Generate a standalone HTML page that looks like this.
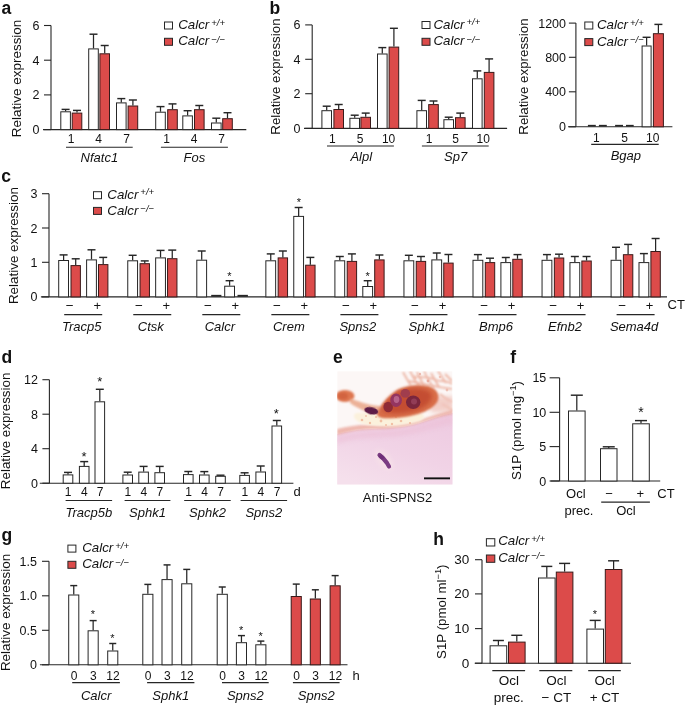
<!DOCTYPE html>
<html><head><meta charset="utf-8"><style>
html,body{margin:0;padding:0;background:#fff;}
svg{display:block;filter:blur(0.3px);}
text{font-family:"Liberation Sans",sans-serif;fill:#111;}
</style></head><body>
<svg width="685" height="705" viewBox="0 0 685 705">
<rect width="685" height="705" fill="#fff"/>
<text x="1.6" y="13.8" font-size="17.5" font-weight="bold" fill="#111">a</text>
<line x1="51" y1="25.5" x2="51" y2="129.6" stroke="#262626" stroke-width="1.1"/>
<line x1="44" y1="25.5" x2="51" y2="25.5" stroke="#262626" stroke-width="1.1"/>
<text x="39.5" y="30" font-size="12.5" text-anchor="end" >6</text>
<line x1="44" y1="60.2" x2="51" y2="60.2" stroke="#262626" stroke-width="1.1"/>
<text x="39.5" y="64.7" font-size="12.5" text-anchor="end" >4</text>
<line x1="44" y1="94.9" x2="51" y2="94.9" stroke="#262626" stroke-width="1.1"/>
<text x="39.5" y="99.4" font-size="12.5" text-anchor="end" >2</text>
<line x1="44" y1="129.6" x2="51" y2="129.6" stroke="#262626" stroke-width="1.1"/>
<text x="39.5" y="134.1" font-size="12.5" text-anchor="end" >0</text>
<line x1="43" y1="129.6" x2="246.3" y2="129.6" stroke="#262626" stroke-width="1.1"/>
<rect x="60.8" y="111.8" width="9.6" height="17.8" fill="#fff" stroke="#262626" stroke-width="1.0"/>
<line x1="65.6" y1="111.3" x2="65.6" y2="109.4" stroke="#262626" stroke-width="1.25"/>
<line x1="61.6" y1="109.4" x2="69.6" y2="109.4" stroke="#262626" stroke-width="1.45"/>
<rect x="72.2" y="113.1" width="9.6" height="16.5" fill="#dc4b4a" stroke="#3a1a1a" stroke-width="1.0"/>
<line x1="77" y1="112.6" x2="77" y2="110.4" stroke="#262626" stroke-width="1.25"/>
<line x1="73" y1="110.4" x2="81" y2="110.4" stroke="#262626" stroke-width="1.45"/>
<rect x="88.7" y="48.9" width="9.6" height="80.7" fill="#fff" stroke="#262626" stroke-width="1.0"/>
<line x1="93.5" y1="48.4" x2="93.5" y2="34.2" stroke="#262626" stroke-width="1.25"/>
<line x1="89.5" y1="34.2" x2="97.5" y2="34.2" stroke="#262626" stroke-width="1.45"/>
<rect x="99.9" y="53.8" width="9.6" height="75.8" fill="#dc4b4a" stroke="#3a1a1a" stroke-width="1.0"/>
<line x1="104.7" y1="53.3" x2="104.7" y2="45.5" stroke="#262626" stroke-width="1.25"/>
<line x1="100.7" y1="45.5" x2="108.7" y2="45.5" stroke="#262626" stroke-width="1.45"/>
<rect x="116.5" y="102.9" width="9.6" height="26.7" fill="#fff" stroke="#262626" stroke-width="1.0"/>
<line x1="121.3" y1="102.4" x2="121.3" y2="98.6" stroke="#262626" stroke-width="1.25"/>
<line x1="117.3" y1="98.6" x2="125.3" y2="98.6" stroke="#262626" stroke-width="1.45"/>
<rect x="128.1" y="106" width="9.6" height="23.6" fill="#dc4b4a" stroke="#3a1a1a" stroke-width="1.0"/>
<line x1="132.9" y1="105.5" x2="132.9" y2="100" stroke="#262626" stroke-width="1.25"/>
<line x1="128.9" y1="100" x2="136.9" y2="100" stroke="#262626" stroke-width="1.45"/>
<rect x="155.7" y="112.2" width="9.6" height="17.4" fill="#fff" stroke="#262626" stroke-width="1.0"/>
<line x1="160.5" y1="111.7" x2="160.5" y2="106.6" stroke="#262626" stroke-width="1.25"/>
<line x1="156.5" y1="106.6" x2="164.5" y2="106.6" stroke="#262626" stroke-width="1.45"/>
<rect x="167.7" y="109.7" width="9.6" height="19.9" fill="#dc4b4a" stroke="#3a1a1a" stroke-width="1.0"/>
<line x1="172.5" y1="109.2" x2="172.5" y2="103.9" stroke="#262626" stroke-width="1.25"/>
<line x1="168.5" y1="103.9" x2="176.5" y2="103.9" stroke="#262626" stroke-width="1.45"/>
<rect x="182.8" y="115.9" width="9.6" height="13.7" fill="#fff" stroke="#262626" stroke-width="1.0"/>
<line x1="187.6" y1="115.4" x2="187.6" y2="110.7" stroke="#262626" stroke-width="1.25"/>
<line x1="183.6" y1="110.7" x2="191.6" y2="110.7" stroke="#262626" stroke-width="1.45"/>
<rect x="194.5" y="109.7" width="9.6" height="19.9" fill="#dc4b4a" stroke="#3a1a1a" stroke-width="1.0"/>
<line x1="199.3" y1="109.2" x2="199.3" y2="105.5" stroke="#262626" stroke-width="1.25"/>
<line x1="195.3" y1="105.5" x2="203.3" y2="105.5" stroke="#262626" stroke-width="1.45"/>
<rect x="211.5" y="123" width="9.6" height="6.6" fill="#fff" stroke="#262626" stroke-width="1.0"/>
<line x1="216.3" y1="122.5" x2="216.3" y2="118.2" stroke="#262626" stroke-width="1.25"/>
<line x1="212.3" y1="118.2" x2="220.3" y2="118.2" stroke="#262626" stroke-width="1.45"/>
<rect x="222.7" y="118.7" width="9.6" height="10.9" fill="#dc4b4a" stroke="#3a1a1a" stroke-width="1.0"/>
<line x1="227.5" y1="118.2" x2="227.5" y2="112.7" stroke="#262626" stroke-width="1.25"/>
<line x1="223.5" y1="112.7" x2="231.5" y2="112.7" stroke="#262626" stroke-width="1.45"/>
<text x="71.2" y="143.2" font-size="12" text-anchor="middle" >1</text>
<text x="98.7" y="143.2" font-size="12" text-anchor="middle" >4</text>
<text x="126.5" y="143.2" font-size="12" text-anchor="middle" >7</text>
<text x="166.6" y="143.2" font-size="12" text-anchor="middle" >1</text>
<text x="194" y="143.2" font-size="12" text-anchor="middle" >4</text>
<text x="221.6" y="143.2" font-size="12" text-anchor="middle" >7</text>
<line x1="66" y1="147.3" x2="132.7" y2="147.3" stroke="#262626" stroke-width="1.1"/>
<line x1="160.9" y1="147.3" x2="227.9" y2="147.3" stroke="#262626" stroke-width="1.1"/>
<text x="99.4" y="161.6" font-size="13" text-anchor="middle" font-style="italic" >Nfatc1</text>
<text x="194.4" y="161.6" font-size="13" text-anchor="middle" font-style="italic" >Fos</text>
<text transform="translate(21.4,78.4) rotate(-90)" font-size="13" text-anchor="middle" textLength="117.5" lengthAdjust="spacingAndGlyphs">Relative expression</text>
<rect x="164.5" y="22" width="8" height="7" fill="#fff" stroke="#262626" stroke-width="1"/>
<rect x="164.5" y="38.3" width="8" height="7" fill="#dc4b4a" stroke="#262626" stroke-width="1"/>
<text x="178.2" y="29.1" font-size="13.3" font-style="italic">Calcr<tspan font-size="9.5" dx="2" dy="-3.6">+/+</tspan></text>
<text x="178.2" y="45.4" font-size="13.3" font-style="italic">Calcr<tspan font-size="9.5" dx="2" dy="-2.9">−/−</tspan></text>
<text x="269.6" y="13.5" font-size="17.5" font-weight="bold" fill="#111">b</text>
<line x1="312.2" y1="24.9" x2="312.2" y2="128.4" stroke="#262626" stroke-width="1.1"/>
<line x1="305.2" y1="24.9" x2="312.2" y2="24.9" stroke="#262626" stroke-width="1.1"/>
<text x="300.5" y="29.4" font-size="12.5" text-anchor="end" >6</text>
<line x1="305.2" y1="59.3" x2="312.2" y2="59.3" stroke="#262626" stroke-width="1.1"/>
<text x="300.5" y="63.8" font-size="12.5" text-anchor="end" >4</text>
<line x1="305.2" y1="93.7" x2="312.2" y2="93.7" stroke="#262626" stroke-width="1.1"/>
<text x="300.5" y="98.2" font-size="12.5" text-anchor="end" >2</text>
<line x1="305.2" y1="128.4" x2="312.2" y2="128.4" stroke="#262626" stroke-width="1.1"/>
<text x="300.5" y="132.9" font-size="12.5" text-anchor="end" >0</text>
<line x1="304" y1="128.4" x2="507.1" y2="128.4" stroke="#262626" stroke-width="1.1"/>
<rect x="321.9" y="110.7" width="9.6" height="17.7" fill="#fff" stroke="#262626" stroke-width="1.0"/>
<line x1="326.7" y1="110.2" x2="326.7" y2="106.2" stroke="#262626" stroke-width="1.25"/>
<line x1="322.7" y1="106.2" x2="330.7" y2="106.2" stroke="#262626" stroke-width="1.45"/>
<rect x="333.9" y="109.5" width="9.6" height="18.9" fill="#dc4b4a" stroke="#3a1a1a" stroke-width="1.0"/>
<line x1="338.7" y1="109" x2="338.7" y2="104.5" stroke="#262626" stroke-width="1.25"/>
<line x1="334.7" y1="104.5" x2="342.7" y2="104.5" stroke="#262626" stroke-width="1.45"/>
<rect x="349.9" y="118.3" width="9.6" height="10.1" fill="#fff" stroke="#262626" stroke-width="1.0"/>
<line x1="354.7" y1="117.8" x2="354.7" y2="115.2" stroke="#262626" stroke-width="1.25"/>
<line x1="350.7" y1="115.2" x2="358.7" y2="115.2" stroke="#262626" stroke-width="1.45"/>
<rect x="360.9" y="117.3" width="9.6" height="11.1" fill="#dc4b4a" stroke="#3a1a1a" stroke-width="1.0"/>
<line x1="365.7" y1="116.8" x2="365.7" y2="113.1" stroke="#262626" stroke-width="1.25"/>
<line x1="361.7" y1="113.1" x2="369.7" y2="113.1" stroke="#262626" stroke-width="1.45"/>
<rect x="377.5" y="54" width="9.6" height="74.4" fill="#fff" stroke="#262626" stroke-width="1.0"/>
<line x1="382.3" y1="53.5" x2="382.3" y2="47.6" stroke="#262626" stroke-width="1.25"/>
<line x1="378.3" y1="47.6" x2="386.3" y2="47.6" stroke="#262626" stroke-width="1.45"/>
<rect x="389.1" y="47.1" width="9.6" height="81.3" fill="#dc4b4a" stroke="#3a1a1a" stroke-width="1.0"/>
<line x1="393.9" y1="46.6" x2="393.9" y2="28.3" stroke="#262626" stroke-width="1.25"/>
<line x1="389.9" y1="28.3" x2="397.9" y2="28.3" stroke="#262626" stroke-width="1.45"/>
<rect x="416.9" y="110.7" width="9.6" height="17.7" fill="#fff" stroke="#262626" stroke-width="1.0"/>
<line x1="421.7" y1="110.2" x2="421.7" y2="100.4" stroke="#262626" stroke-width="1.25"/>
<line x1="417.7" y1="100.4" x2="425.7" y2="100.4" stroke="#262626" stroke-width="1.45"/>
<rect x="428.7" y="104.6" width="9.6" height="23.8" fill="#dc4b4a" stroke="#3a1a1a" stroke-width="1.0"/>
<line x1="433.5" y1="104.1" x2="433.5" y2="101" stroke="#262626" stroke-width="1.25"/>
<line x1="429.5" y1="101" x2="437.5" y2="101" stroke="#262626" stroke-width="1.45"/>
<rect x="443.9" y="119.7" width="9.6" height="8.7" fill="#fff" stroke="#262626" stroke-width="1.0"/>
<line x1="448.7" y1="119.2" x2="448.7" y2="117.2" stroke="#262626" stroke-width="1.25"/>
<line x1="444.7" y1="117.2" x2="452.7" y2="117.2" stroke="#262626" stroke-width="1.45"/>
<rect x="455.5" y="117.7" width="9.6" height="10.7" fill="#dc4b4a" stroke="#3a1a1a" stroke-width="1.0"/>
<line x1="460.3" y1="117.2" x2="460.3" y2="113.1" stroke="#262626" stroke-width="1.25"/>
<line x1="456.3" y1="113.1" x2="464.3" y2="113.1" stroke="#262626" stroke-width="1.45"/>
<rect x="472.5" y="78.8" width="9.6" height="49.6" fill="#fff" stroke="#262626" stroke-width="1.0"/>
<line x1="477.3" y1="78.3" x2="477.3" y2="70.9" stroke="#262626" stroke-width="1.25"/>
<line x1="473.3" y1="70.9" x2="481.3" y2="70.9" stroke="#262626" stroke-width="1.45"/>
<rect x="484.3" y="72.4" width="9.6" height="56" fill="#dc4b4a" stroke="#3a1a1a" stroke-width="1.0"/>
<line x1="489.1" y1="71.9" x2="489.1" y2="58.9" stroke="#262626" stroke-width="1.25"/>
<line x1="485.1" y1="58.9" x2="493.1" y2="58.9" stroke="#262626" stroke-width="1.45"/>
<text x="332.3" y="143" font-size="12" text-anchor="middle" >1</text>
<text x="360.2" y="143" font-size="12" text-anchor="middle" >5</text>
<text x="388.6" y="143" font-size="12" text-anchor="middle" >10</text>
<text x="429" y="143" font-size="12" text-anchor="middle" >1</text>
<text x="455.6" y="143" font-size="12" text-anchor="middle" >5</text>
<text x="483.2" y="143" font-size="12" text-anchor="middle" >10</text>
<line x1="327" y1="146" x2="393.9" y2="146" stroke="#262626" stroke-width="1.1"/>
<line x1="421.9" y1="146" x2="488.7" y2="146" stroke="#262626" stroke-width="1.1"/>
<text x="361.3" y="161.2" font-size="13" text-anchor="middle" font-style="italic" >Alpl</text>
<text x="455.6" y="161.2" font-size="13" text-anchor="middle" font-style="italic" >Sp7</text>
<text transform="translate(280.2,76.6) rotate(-90)" font-size="13" text-anchor="middle" textLength="116.3" lengthAdjust="spacingAndGlyphs">Relative expression</text>
<rect x="422" y="21.5" width="8" height="7" fill="#fff" stroke="#262626" stroke-width="1"/>
<rect x="422" y="38.3" width="8" height="7" fill="#dc4b4a" stroke="#262626" stroke-width="1"/>
<text x="433.5" y="28.6" font-size="13.3" font-style="italic">Calcr<tspan font-size="9.5" dx="2" dy="-3.6">+/+</tspan></text>
<text x="433.5" y="45.4" font-size="13.3" font-style="italic">Calcr<tspan font-size="9.5" dx="2" dy="-2.9">−/−</tspan></text>
<line x1="575.9" y1="23.1" x2="575.9" y2="126.8" stroke="#262626" stroke-width="1.1"/>
<line x1="568.9" y1="23.1" x2="575.9" y2="23.1" stroke="#262626" stroke-width="1.1"/>
<text x="566" y="27.6" font-size="12.5" text-anchor="end" >1200</text>
<line x1="568.9" y1="57.3" x2="575.9" y2="57.3" stroke="#262626" stroke-width="1.1"/>
<text x="566" y="61.8" font-size="12.5" text-anchor="end" >800</text>
<line x1="568.9" y1="91.8" x2="575.9" y2="91.8" stroke="#262626" stroke-width="1.1"/>
<text x="566" y="96.3" font-size="12.5" text-anchor="end" >400</text>
<line x1="568.9" y1="126.8" x2="575.9" y2="126.8" stroke="#262626" stroke-width="1.1"/>
<text x="566" y="131.3" font-size="12.5" text-anchor="end" >0</text>
<line x1="568" y1="126.8" x2="672.4" y2="126.8" stroke="#262626" stroke-width="1.1"/>
<line x1="587.9" y1="125.7" x2="595.8" y2="125.7" stroke="#262626" stroke-width="1.7"/>
<line x1="598.9" y1="125.7" x2="606.8" y2="125.7" stroke="#262626" stroke-width="1.7"/>
<line x1="615.1" y1="125.7" x2="623" y2="125.7" stroke="#262626" stroke-width="1.7"/>
<line x1="626" y1="125.7" x2="633.7" y2="125.7" stroke="#262626" stroke-width="1.7"/>
<rect x="642.1" y="46" width="9" height="80.8" fill="#fff" stroke="#262626" stroke-width="1.0"/>
<line x1="646.6" y1="45.5" x2="646.6" y2="37.3" stroke="#262626" stroke-width="1.25"/>
<line x1="642.6" y1="37.3" x2="650.6" y2="37.3" stroke="#262626" stroke-width="1.45"/>
<rect x="653.4" y="33.7" width="10" height="93.1" fill="#dc4b4a" stroke="#3a1a1a" stroke-width="1.0"/>
<line x1="658.4" y1="33.2" x2="658.4" y2="24.4" stroke="#262626" stroke-width="1.25"/>
<line x1="654.4" y1="24.4" x2="662.4" y2="24.4" stroke="#262626" stroke-width="1.45"/>
<text x="596.4" y="142.2" font-size="12" text-anchor="middle" >1</text>
<text x="624.5" y="142.2" font-size="12" text-anchor="middle" >5</text>
<text x="652.7" y="142.2" font-size="12" text-anchor="middle" >10</text>
<line x1="591.2" y1="144.4" x2="658.7" y2="144.4" stroke="#262626" stroke-width="1.1"/>
<text x="625.9" y="159.5" font-size="13" text-anchor="middle" font-style="italic" >Bgap</text>
<text transform="translate(527.6,76.6) rotate(-90)" font-size="13" text-anchor="middle" textLength="116.3" lengthAdjust="spacingAndGlyphs">Relative expression</text>
<rect x="584.8" y="22" width="8" height="7" fill="#fff" stroke="#262626" stroke-width="1"/>
<rect x="584.8" y="38.6" width="8" height="7" fill="#dc4b4a" stroke="#262626" stroke-width="1"/>
<text x="597" y="29.1" font-size="13.3" font-style="italic">Calcr<tspan font-size="9.5" dx="2" dy="-3.6">+/+</tspan></text>
<text x="597" y="45.7" font-size="13.3" font-style="italic">Calcr<tspan font-size="9.5" dx="2" dy="-2.9">−/−</tspan></text>
<text x="1.3" y="182" font-size="17.5" font-weight="bold" fill="#111">c</text>
<line x1="49" y1="193.7" x2="49" y2="296.9" stroke="#262626" stroke-width="1.1"/>
<line x1="42" y1="193.7" x2="49" y2="193.7" stroke="#262626" stroke-width="1.1"/>
<text x="37.5" y="198.2" font-size="12.5" text-anchor="end" >3</text>
<line x1="42" y1="228" x2="49" y2="228" stroke="#262626" stroke-width="1.1"/>
<text x="37.5" y="232.5" font-size="12.5" text-anchor="end" >2</text>
<line x1="42" y1="262.3" x2="49" y2="262.3" stroke="#262626" stroke-width="1.1"/>
<text x="37.5" y="266.8" font-size="12.5" text-anchor="end" >1</text>
<line x1="42" y1="296.9" x2="49" y2="296.9" stroke="#262626" stroke-width="1.1"/>
<text x="37.5" y="301.4" font-size="12.5" text-anchor="end" >0</text>
<line x1="40.9" y1="296.9" x2="667" y2="296.9" stroke="#262626" stroke-width="1.1"/>
<rect x="58.7" y="260.5" width="9.8" height="36.4" fill="#fff" stroke="#262626" stroke-width="1.0"/>
<line x1="63.6" y1="260" x2="63.6" y2="254.9" stroke="#262626" stroke-width="1.25"/>
<line x1="59.6" y1="254.9" x2="67.6" y2="254.9" stroke="#262626" stroke-width="1.45"/>
<rect x="71" y="265.6" width="9.4" height="31.3" fill="#dc4b4a" stroke="#3a1a1a" stroke-width="1.0"/>
<line x1="75.7" y1="265.1" x2="75.7" y2="258.8" stroke="#262626" stroke-width="1.25"/>
<line x1="71.7" y1="258.8" x2="79.7" y2="258.8" stroke="#262626" stroke-width="1.45"/>
<rect x="86.6" y="259.9" width="9.8" height="37" fill="#fff" stroke="#262626" stroke-width="1.0"/>
<line x1="91.5" y1="259.4" x2="91.5" y2="249.8" stroke="#262626" stroke-width="1.25"/>
<line x1="87.5" y1="249.8" x2="95.5" y2="249.8" stroke="#262626" stroke-width="1.45"/>
<rect x="98.5" y="264.6" width="9.4" height="32.3" fill="#dc4b4a" stroke="#3a1a1a" stroke-width="1.0"/>
<line x1="103.2" y1="264.1" x2="103.2" y2="257.4" stroke="#262626" stroke-width="1.25"/>
<line x1="99.2" y1="257.4" x2="107.2" y2="257.4" stroke="#262626" stroke-width="1.45"/>
<text x="69.8" y="310" font-size="13.5" text-anchor="middle" >−</text>
<text x="97.2" y="310.2" font-size="13" text-anchor="middle" >+</text>
<line x1="64.2" y1="314.6" x2="102.2" y2="314.6" stroke="#262626" stroke-width="1.1"/>
<text x="81.7" y="330.8" font-size="13" text-anchor="middle" font-style="italic" >Tracp5</text>
<rect x="127.75" y="260.8" width="9.8" height="36.1" fill="#fff" stroke="#262626" stroke-width="1.0"/>
<line x1="132.65" y1="260.3" x2="132.65" y2="255.3" stroke="#262626" stroke-width="1.25"/>
<line x1="128.65" y1="255.3" x2="136.65" y2="255.3" stroke="#262626" stroke-width="1.45"/>
<rect x="140.05" y="263.7" width="9.4" height="33.2" fill="#dc4b4a" stroke="#3a1a1a" stroke-width="1.0"/>
<line x1="144.75" y1="263.2" x2="144.75" y2="260.9" stroke="#262626" stroke-width="1.25"/>
<line x1="140.75" y1="260.9" x2="148.75" y2="260.9" stroke="#262626" stroke-width="1.45"/>
<rect x="155.65" y="257.9" width="9.8" height="39" fill="#fff" stroke="#262626" stroke-width="1.0"/>
<line x1="160.55" y1="257.4" x2="160.55" y2="250.4" stroke="#262626" stroke-width="1.25"/>
<line x1="156.55" y1="250.4" x2="164.55" y2="250.4" stroke="#262626" stroke-width="1.45"/>
<rect x="167.55" y="258.7" width="9.4" height="38.2" fill="#dc4b4a" stroke="#3a1a1a" stroke-width="1.0"/>
<line x1="172.25" y1="258.2" x2="172.25" y2="250.1" stroke="#262626" stroke-width="1.25"/>
<line x1="168.25" y1="250.1" x2="176.25" y2="250.1" stroke="#262626" stroke-width="1.45"/>
<text x="138.85" y="310" font-size="13.5" text-anchor="middle" >−</text>
<text x="166.25" y="310.2" font-size="13" text-anchor="middle" >+</text>
<line x1="133.25" y1="314.6" x2="171.25" y2="314.6" stroke="#262626" stroke-width="1.1"/>
<text x="150.75" y="330.8" font-size="13" text-anchor="middle" font-style="italic" >Ctsk</text>
<rect x="196.8" y="260.2" width="9.8" height="36.7" fill="#fff" stroke="#262626" stroke-width="1.0"/>
<line x1="201.7" y1="259.7" x2="201.7" y2="251" stroke="#262626" stroke-width="1.25"/>
<line x1="197.7" y1="251" x2="205.7" y2="251" stroke="#262626" stroke-width="1.45"/>
<line x1="211.2" y1="295.8" x2="221.4" y2="295.8" stroke="#262626" stroke-width="1.9"/>
<rect x="224.7" y="286.2" width="9.8" height="10.7" fill="#fff" stroke="#262626" stroke-width="1.0"/>
<line x1="229.6" y1="285.7" x2="229.6" y2="280.7" stroke="#262626" stroke-width="1.25"/>
<line x1="225.6" y1="280.7" x2="233.6" y2="280.7" stroke="#262626" stroke-width="1.45"/>
<line x1="237.5" y1="295.8" x2="247.9" y2="295.8" stroke="#262626" stroke-width="1.9"/>
<text x="207.9" y="310" font-size="13.5" text-anchor="middle" >−</text>
<text x="235.3" y="310.2" font-size="13" text-anchor="middle" >+</text>
<line x1="202.3" y1="314.6" x2="240.3" y2="314.6" stroke="#262626" stroke-width="1.1"/>
<text x="219.8" y="330.8" font-size="13" text-anchor="middle" font-style="italic" >Calcr</text>
<rect x="265.85" y="260.8" width="9.8" height="36.1" fill="#fff" stroke="#262626" stroke-width="1.0"/>
<line x1="270.75" y1="260.3" x2="270.75" y2="253.9" stroke="#262626" stroke-width="1.25"/>
<line x1="266.75" y1="253.9" x2="274.75" y2="253.9" stroke="#262626" stroke-width="1.45"/>
<rect x="278.15" y="257.9" width="9.4" height="39" fill="#dc4b4a" stroke="#3a1a1a" stroke-width="1.0"/>
<line x1="282.85" y1="257.4" x2="282.85" y2="251" stroke="#262626" stroke-width="1.25"/>
<line x1="278.85" y1="251" x2="286.85" y2="251" stroke="#262626" stroke-width="1.45"/>
<rect x="293.75" y="216.4" width="9.8" height="80.5" fill="#fff" stroke="#262626" stroke-width="1.0"/>
<line x1="298.65" y1="215.9" x2="298.65" y2="207.5" stroke="#262626" stroke-width="1.25"/>
<line x1="294.65" y1="207.5" x2="302.65" y2="207.5" stroke="#262626" stroke-width="1.45"/>
<rect x="305.65" y="265.2" width="9.4" height="31.7" fill="#dc4b4a" stroke="#3a1a1a" stroke-width="1.0"/>
<line x1="310.35" y1="264.7" x2="310.35" y2="257.4" stroke="#262626" stroke-width="1.25"/>
<line x1="306.35" y1="257.4" x2="314.35" y2="257.4" stroke="#262626" stroke-width="1.45"/>
<text x="276.95" y="310" font-size="13.5" text-anchor="middle" >−</text>
<text x="304.35" y="310.2" font-size="13" text-anchor="middle" >+</text>
<line x1="271.35" y1="314.6" x2="309.35" y2="314.6" stroke="#262626" stroke-width="1.1"/>
<text x="288.85" y="330.8" font-size="13" text-anchor="middle" font-style="italic" >Crem</text>
<rect x="334.9" y="260.8" width="9.8" height="36.1" fill="#fff" stroke="#262626" stroke-width="1.0"/>
<line x1="339.8" y1="260.3" x2="339.8" y2="256.5" stroke="#262626" stroke-width="1.25"/>
<line x1="335.8" y1="256.5" x2="343.8" y2="256.5" stroke="#262626" stroke-width="1.45"/>
<rect x="347.2" y="261.4" width="9.4" height="35.5" fill="#dc4b4a" stroke="#3a1a1a" stroke-width="1.0"/>
<line x1="351.9" y1="260.9" x2="351.9" y2="253.9" stroke="#262626" stroke-width="1.25"/>
<line x1="347.9" y1="253.9" x2="355.9" y2="253.9" stroke="#262626" stroke-width="1.45"/>
<rect x="362.8" y="286.5" width="9.8" height="10.4" fill="#fff" stroke="#262626" stroke-width="1.0"/>
<line x1="367.7" y1="286" x2="367.7" y2="280.7" stroke="#262626" stroke-width="1.25"/>
<line x1="363.7" y1="280.7" x2="371.7" y2="280.7" stroke="#262626" stroke-width="1.45"/>
<rect x="374.7" y="259.9" width="9.4" height="37" fill="#dc4b4a" stroke="#3a1a1a" stroke-width="1.0"/>
<line x1="379.4" y1="259.4" x2="379.4" y2="255" stroke="#262626" stroke-width="1.25"/>
<line x1="375.4" y1="255" x2="383.4" y2="255" stroke="#262626" stroke-width="1.45"/>
<text x="346" y="310" font-size="13.5" text-anchor="middle" >−</text>
<text x="373.4" y="310.2" font-size="13" text-anchor="middle" >+</text>
<line x1="340.4" y1="314.6" x2="378.4" y2="314.6" stroke="#262626" stroke-width="1.1"/>
<text x="357.9" y="330.8" font-size="13" text-anchor="middle" font-style="italic" >Spns2</text>
<rect x="403.95" y="260.8" width="9.8" height="36.1" fill="#fff" stroke="#262626" stroke-width="1.0"/>
<line x1="408.85" y1="260.3" x2="408.85" y2="255.3" stroke="#262626" stroke-width="1.25"/>
<line x1="404.85" y1="255.3" x2="412.85" y2="255.3" stroke="#262626" stroke-width="1.45"/>
<rect x="416.25" y="261.4" width="9.4" height="35.5" fill="#dc4b4a" stroke="#3a1a1a" stroke-width="1.0"/>
<line x1="420.95" y1="260.9" x2="420.95" y2="256.5" stroke="#262626" stroke-width="1.25"/>
<line x1="416.95" y1="256.5" x2="424.95" y2="256.5" stroke="#262626" stroke-width="1.45"/>
<rect x="431.85" y="259.9" width="9.8" height="37" fill="#fff" stroke="#262626" stroke-width="1.0"/>
<line x1="436.75" y1="259.4" x2="436.75" y2="253" stroke="#262626" stroke-width="1.25"/>
<line x1="432.75" y1="253" x2="440.75" y2="253" stroke="#262626" stroke-width="1.45"/>
<rect x="443.75" y="263.1" width="9.4" height="33.8" fill="#dc4b4a" stroke="#3a1a1a" stroke-width="1.0"/>
<line x1="448.45" y1="262.6" x2="448.45" y2="254.5" stroke="#262626" stroke-width="1.25"/>
<line x1="444.45" y1="254.5" x2="452.45" y2="254.5" stroke="#262626" stroke-width="1.45"/>
<text x="415.05" y="310" font-size="13.5" text-anchor="middle" >−</text>
<text x="442.45" y="310.2" font-size="13" text-anchor="middle" >+</text>
<line x1="409.45" y1="314.6" x2="447.45" y2="314.6" stroke="#262626" stroke-width="1.1"/>
<text x="426.95" y="330.8" font-size="13" text-anchor="middle" font-style="italic" >Sphk1</text>
<rect x="473" y="260.3" width="9.8" height="36.6" fill="#fff" stroke="#262626" stroke-width="1.0"/>
<line x1="477.9" y1="259.8" x2="477.9" y2="254.6" stroke="#262626" stroke-width="1.25"/>
<line x1="473.9" y1="254.6" x2="481.9" y2="254.6" stroke="#262626" stroke-width="1.45"/>
<rect x="485.3" y="262.6" width="9.4" height="34.3" fill="#dc4b4a" stroke="#3a1a1a" stroke-width="1.0"/>
<line x1="490" y1="262.1" x2="490" y2="258.2" stroke="#262626" stroke-width="1.25"/>
<line x1="486" y1="258.2" x2="494" y2="258.2" stroke="#262626" stroke-width="1.45"/>
<rect x="500.9" y="262.6" width="9.8" height="34.3" fill="#fff" stroke="#262626" stroke-width="1.0"/>
<line x1="505.8" y1="262.1" x2="505.8" y2="257.5" stroke="#262626" stroke-width="1.25"/>
<line x1="501.8" y1="257.5" x2="509.8" y2="257.5" stroke="#262626" stroke-width="1.45"/>
<rect x="512.8" y="259.3" width="9.4" height="37.6" fill="#dc4b4a" stroke="#3a1a1a" stroke-width="1.0"/>
<line x1="517.5" y1="258.8" x2="517.5" y2="254.6" stroke="#262626" stroke-width="1.25"/>
<line x1="513.5" y1="254.6" x2="521.5" y2="254.6" stroke="#262626" stroke-width="1.45"/>
<text x="484.1" y="310" font-size="13.5" text-anchor="middle" >−</text>
<text x="511.5" y="310.2" font-size="13" text-anchor="middle" >+</text>
<line x1="478.5" y1="314.6" x2="516.5" y2="314.6" stroke="#262626" stroke-width="1.1"/>
<text x="496" y="330.8" font-size="13" text-anchor="middle" font-style="italic" >Bmp6</text>
<rect x="542.05" y="260.3" width="9.8" height="36.6" fill="#fff" stroke="#262626" stroke-width="1.0"/>
<line x1="546.95" y1="259.8" x2="546.95" y2="254.6" stroke="#262626" stroke-width="1.25"/>
<line x1="542.95" y1="254.6" x2="550.95" y2="254.6" stroke="#262626" stroke-width="1.45"/>
<rect x="554.35" y="258" width="9.4" height="38.9" fill="#dc4b4a" stroke="#3a1a1a" stroke-width="1.0"/>
<line x1="559.05" y1="257.5" x2="559.05" y2="254.2" stroke="#262626" stroke-width="1.25"/>
<line x1="555.05" y1="254.2" x2="563.05" y2="254.2" stroke="#262626" stroke-width="1.45"/>
<rect x="569.95" y="262.6" width="9.8" height="34.3" fill="#fff" stroke="#262626" stroke-width="1.0"/>
<line x1="574.85" y1="262.1" x2="574.85" y2="256.5" stroke="#262626" stroke-width="1.25"/>
<line x1="570.85" y1="256.5" x2="578.85" y2="256.5" stroke="#262626" stroke-width="1.45"/>
<rect x="581.85" y="261" width="9.4" height="35.9" fill="#dc4b4a" stroke="#3a1a1a" stroke-width="1.0"/>
<line x1="586.55" y1="260.5" x2="586.55" y2="256.5" stroke="#262626" stroke-width="1.25"/>
<line x1="582.55" y1="256.5" x2="590.55" y2="256.5" stroke="#262626" stroke-width="1.45"/>
<text x="553.15" y="310" font-size="13.5" text-anchor="middle" >−</text>
<text x="580.55" y="310.2" font-size="13" text-anchor="middle" >+</text>
<line x1="547.55" y1="314.6" x2="585.55" y2="314.6" stroke="#262626" stroke-width="1.1"/>
<text x="565.05" y="330.8" font-size="13" text-anchor="middle" font-style="italic" >Efnb2</text>
<rect x="611.1" y="260.3" width="9.8" height="36.6" fill="#fff" stroke="#262626" stroke-width="1.0"/>
<line x1="616" y1="259.8" x2="616" y2="247.3" stroke="#262626" stroke-width="1.25"/>
<line x1="612" y1="247.3" x2="620" y2="247.3" stroke="#262626" stroke-width="1.45"/>
<rect x="623.4" y="254.7" width="9.4" height="42.2" fill="#dc4b4a" stroke="#3a1a1a" stroke-width="1.0"/>
<line x1="628.1" y1="254.2" x2="628.1" y2="244.4" stroke="#262626" stroke-width="1.25"/>
<line x1="624.1" y1="244.4" x2="632.1" y2="244.4" stroke="#262626" stroke-width="1.45"/>
<rect x="639" y="262.6" width="9.8" height="34.3" fill="#fff" stroke="#262626" stroke-width="1.0"/>
<line x1="643.9" y1="262.1" x2="643.9" y2="253.6" stroke="#262626" stroke-width="1.25"/>
<line x1="639.9" y1="253.6" x2="647.9" y2="253.6" stroke="#262626" stroke-width="1.45"/>
<rect x="650.9" y="251.5" width="9.4" height="45.4" fill="#dc4b4a" stroke="#3a1a1a" stroke-width="1.0"/>
<line x1="655.6" y1="251" x2="655.6" y2="238.5" stroke="#262626" stroke-width="1.25"/>
<line x1="651.6" y1="238.5" x2="659.6" y2="238.5" stroke="#262626" stroke-width="1.45"/>
<text x="622.2" y="310" font-size="13.5" text-anchor="middle" >−</text>
<text x="649.6" y="310.2" font-size="13" text-anchor="middle" >+</text>
<line x1="616.6" y1="314.6" x2="654.6" y2="314.6" stroke="#262626" stroke-width="1.1"/>
<text x="634.1" y="330.8" font-size="13" text-anchor="middle" font-style="italic" >Sema4d</text>
<text x="229.4" y="280.24" font-size="11" text-anchor="middle" >*</text>
<text x="298.8" y="206.44" font-size="11" text-anchor="middle" >*</text>
<text x="367.7" y="280.14" font-size="11" text-anchor="middle" >*</text>
<text x="667.6" y="309.2" font-size="13" text-anchor="start" >CT</text>
<text transform="translate(17.6,245.6) rotate(-90)" font-size="13" text-anchor="middle" textLength="117" lengthAdjust="spacingAndGlyphs">Relative expression</text>
<rect x="93.5" y="191.7" width="8" height="7" fill="#fff" stroke="#262626" stroke-width="1"/>
<rect x="93.5" y="207.4" width="8" height="7" fill="#dc4b4a" stroke="#262626" stroke-width="1"/>
<text x="107.3" y="198.8" font-size="13.3" font-style="italic">Calcr<tspan font-size="9.5" dx="2" dy="-3.6">+/+</tspan></text>
<text x="107.3" y="214.5" font-size="13.3" font-style="italic">Calcr<tspan font-size="9.5" dx="2" dy="-2.9">−/−</tspan></text>
<text x="1.6" y="362.5" font-size="17.5" font-weight="bold" fill="#111">d</text>
<line x1="49.4" y1="379.7" x2="49.4" y2="483.2" stroke="#262626" stroke-width="1.1"/>
<line x1="42.4" y1="379.7" x2="49.4" y2="379.7" stroke="#262626" stroke-width="1.1"/>
<text x="38" y="384.2" font-size="12.5" text-anchor="end" >12</text>
<line x1="42.4" y1="414.2" x2="49.4" y2="414.2" stroke="#262626" stroke-width="1.1"/>
<text x="38" y="418.7" font-size="12.5" text-anchor="end" >8</text>
<line x1="42.4" y1="448.7" x2="49.4" y2="448.7" stroke="#262626" stroke-width="1.1"/>
<text x="38" y="453.2" font-size="12.5" text-anchor="end" >4</text>
<line x1="42.4" y1="483.2" x2="49.4" y2="483.2" stroke="#262626" stroke-width="1.1"/>
<text x="38" y="487.7" font-size="12.5" text-anchor="end" >0</text>
<line x1="39.8" y1="483.2" x2="293.4" y2="483.2" stroke="#262626" stroke-width="1.1"/>
<rect x="63.2" y="474.9" width="9.6" height="8.3" fill="#fff" stroke="#262626" stroke-width="1.0"/>
<line x1="68" y1="474.4" x2="68" y2="472.4" stroke="#262626" stroke-width="1.25"/>
<line x1="64" y1="472.4" x2="72" y2="472.4" stroke="#262626" stroke-width="1.45"/>
<text x="68.2" y="495.9" font-size="12" text-anchor="middle" >1</text>
<rect x="79.4" y="466.4" width="9.6" height="16.8" fill="#fff" stroke="#262626" stroke-width="1.0"/>
<line x1="84.2" y1="465.9" x2="84.2" y2="461.6" stroke="#262626" stroke-width="1.25"/>
<line x1="80.2" y1="461.6" x2="88.2" y2="461.6" stroke="#262626" stroke-width="1.45"/>
<text x="84.4" y="495.9" font-size="12" text-anchor="middle" >4</text>
<rect x="95" y="401.8" width="9.6" height="81.4" fill="#fff" stroke="#262626" stroke-width="1.0"/>
<line x1="99.8" y1="401.3" x2="99.8" y2="389.3" stroke="#262626" stroke-width="1.25"/>
<line x1="95.8" y1="389.3" x2="103.8" y2="389.3" stroke="#262626" stroke-width="1.45"/>
<text x="100" y="495.9" font-size="12" text-anchor="middle" >7</text>
<rect x="122.9" y="475" width="9.6" height="8.2" fill="#fff" stroke="#262626" stroke-width="1.0"/>
<line x1="127.7" y1="474.5" x2="127.7" y2="472.2" stroke="#262626" stroke-width="1.25"/>
<line x1="123.7" y1="472.2" x2="131.7" y2="472.2" stroke="#262626" stroke-width="1.45"/>
<text x="127.9" y="495.9" font-size="12" text-anchor="middle" >1</text>
<rect x="138.8" y="472.1" width="9.6" height="11.1" fill="#fff" stroke="#262626" stroke-width="1.0"/>
<line x1="143.6" y1="471.6" x2="143.6" y2="466.4" stroke="#262626" stroke-width="1.25"/>
<line x1="139.6" y1="466.4" x2="147.6" y2="466.4" stroke="#262626" stroke-width="1.45"/>
<text x="143.8" y="495.9" font-size="12" text-anchor="middle" >4</text>
<rect x="154.9" y="472.7" width="9.6" height="10.5" fill="#fff" stroke="#262626" stroke-width="1.0"/>
<line x1="159.7" y1="472.2" x2="159.7" y2="466.4" stroke="#262626" stroke-width="1.25"/>
<line x1="155.7" y1="466.4" x2="163.7" y2="466.4" stroke="#262626" stroke-width="1.45"/>
<text x="159.9" y="495.9" font-size="12" text-anchor="middle" >7</text>
<rect x="183.5" y="474.6" width="9.6" height="8.6" fill="#fff" stroke="#262626" stroke-width="1.0"/>
<line x1="188.3" y1="474.1" x2="188.3" y2="471.5" stroke="#262626" stroke-width="1.25"/>
<line x1="184.3" y1="471.5" x2="192.3" y2="471.5" stroke="#262626" stroke-width="1.45"/>
<text x="188.5" y="495.9" font-size="12" text-anchor="middle" >1</text>
<rect x="199.5" y="475" width="9.6" height="8.2" fill="#fff" stroke="#262626" stroke-width="1.0"/>
<line x1="204.3" y1="474.5" x2="204.3" y2="471.6" stroke="#262626" stroke-width="1.25"/>
<line x1="200.3" y1="471.6" x2="208.3" y2="471.6" stroke="#262626" stroke-width="1.45"/>
<text x="204.5" y="495.9" font-size="12" text-anchor="middle" >4</text>
<rect x="215.7" y="476.3" width="9.6" height="6.9" fill="#fff" stroke="#262626" stroke-width="1.0"/>
<line x1="220.5" y1="475.8" x2="220.5" y2="475.2" stroke="#262626" stroke-width="1.25"/>
<line x1="216.5" y1="475.2" x2="224.5" y2="475.2" stroke="#262626" stroke-width="1.45"/>
<text x="220.7" y="495.9" font-size="12" text-anchor="middle" >7</text>
<rect x="239.8" y="475.4" width="9.6" height="7.8" fill="#fff" stroke="#262626" stroke-width="1.0"/>
<line x1="244.6" y1="474.9" x2="244.6" y2="472.8" stroke="#262626" stroke-width="1.25"/>
<line x1="240.6" y1="472.8" x2="248.6" y2="472.8" stroke="#262626" stroke-width="1.45"/>
<text x="244.8" y="495.9" font-size="12" text-anchor="middle" >1</text>
<rect x="255.9" y="472" width="9.6" height="11.2" fill="#fff" stroke="#262626" stroke-width="1.0"/>
<line x1="260.7" y1="471.5" x2="260.7" y2="466" stroke="#262626" stroke-width="1.25"/>
<line x1="256.7" y1="466" x2="264.7" y2="466" stroke="#262626" stroke-width="1.45"/>
<text x="260.9" y="495.9" font-size="12" text-anchor="middle" >4</text>
<rect x="272" y="426" width="9.6" height="57.2" fill="#fff" stroke="#262626" stroke-width="1.0"/>
<line x1="276.8" y1="425.5" x2="276.8" y2="420.5" stroke="#262626" stroke-width="1.25"/>
<line x1="272.8" y1="420.5" x2="280.8" y2="420.5" stroke="#262626" stroke-width="1.45"/>
<text x="277" y="495.9" font-size="12" text-anchor="middle" >7</text>
<text x="84.1" y="461.42" font-size="13" text-anchor="middle" >*</text>
<text x="99.8" y="385.82" font-size="13" text-anchor="middle" >*</text>
<text x="276.4" y="417.92" font-size="13" text-anchor="middle" >*</text>
<text x="293.5" y="495.9" font-size="13" text-anchor="start" >d</text>
<line x1="65.6" y1="500.5" x2="112.1" y2="500.5" stroke="#262626" stroke-width="1.1"/>
<text x="88.85" y="517.4" font-size="13" text-anchor="middle" font-style="italic" >Tracp5b</text>
<line x1="124.6" y1="500.5" x2="170.4" y2="500.5" stroke="#262626" stroke-width="1.1"/>
<text x="147.5" y="517.4" font-size="13" text-anchor="middle" font-style="italic" >Sphk1</text>
<line x1="184.2" y1="500.5" x2="230.7" y2="500.5" stroke="#262626" stroke-width="1.1"/>
<text x="207.45" y="517.4" font-size="13" text-anchor="middle" font-style="italic" >Sphk2</text>
<line x1="240.6" y1="500.5" x2="287.1" y2="500.5" stroke="#262626" stroke-width="1.1"/>
<text x="263.85" y="517.4" font-size="13" text-anchor="middle" font-style="italic" >Spns2</text>
<text transform="translate(10.2,430.9) rotate(-90)" font-size="13" text-anchor="middle" textLength="116.5" lengthAdjust="spacingAndGlyphs">Relative expression</text>
<text x="332.9" y="362.5" font-size="17.5" font-weight="bold" fill="#111">e</text>
<text x="397.5" y="501.8" font-size="13" text-anchor="middle" >Anti-SPNS2</text>
<defs><clipPath id="cp"><rect x="337.2" y="371.2" width="115.3" height="113.4"/></clipPath>
<filter id="b1" x="-30%" y="-30%" width="160%" height="160%"><feGaussianBlur stdDeviation="1.1"/></filter>
<filter id="b2" x="-30%" y="-30%" width="160%" height="160%"><feGaussianBlur stdDeviation="2.2"/></filter>
<filter id="b05" x="-30%" y="-30%" width="160%" height="160%"><feGaussianBlur stdDeviation="0.7"/></filter>
<linearGradient id="pk" x1="0.2" y1="1" x2="0.8" y2="0"><stop offset="0" stop-color="#f5e0ec"/><stop offset="0.5" stop-color="#f1d3e6"/><stop offset="1" stop-color="#eecbe1"/></linearGradient>
</defs>
<g clip-path="url(#cp)">
<rect x="337.2" y="371.2" width="115.3" height="113.4" fill="#fcf7f6"/>
<g filter="url(#b1)" opacity="0.85" fill="none" stroke="#eaa894" stroke-width="1.8"><path d="M403 372 C406 378 409 382 411 386 M410 371 C413 377 415 381 419 386 M417 372 L424 386 M424 371 C427 378 430 383 434 388 M431 373 L439 387 M438 371 L446 383 M445 374 L452 381"/><path d="M408 381 C420 383 436 387 452 389 M412 376 C420 378 428 376 436 380 C442 382 448 380 452 384"/><path d="M440 394 C444 398 448 400 452 402 M442 404 C446 406 449 408 452 410"/></g>
<g filter="url(#b05)" opacity="0.7"><circle cx="415" cy="378" r="1.5" fill="#f2c0b0"/><circle cx="428" cy="381" r="1.4" fill="#e8a090"/><circle cx="440" cy="377" r="1.3" fill="#f0b8a8"/><circle cx="420" cy="374" r="1.2" fill="#e8a898"/><circle cx="447" cy="390" r="1.4" fill="#eab0a0"/></g>
<path d="M337 434 C348 431 360 429 372 429 C392 428 408 427 420 423 C432 419 442 415 453 413 L453 485 L337 485 Z" fill="url(#pk)" filter="url(#b05)"/>
<path d="M337 436 C350 433 362 431 374 431 C392 430 408 429 420 425 C432 421 442 417 453 415 L453 424 C442 426 432 429 420 432 C406 436 390 437 374 438 C360 438 348 440 337 444 Z" fill="#ecbfd6" filter="url(#b2)" opacity="0.6"/>
<path d="M337 429 C350 426 362 424 374 425 C392 426 406 424 420 420 C432 416 442 412 453 409 L453 414 C442 416 432 419 420 423 C406 427 392 429 374 429 C362 429 350 431 337 435 Z" fill="#eaa296" filter="url(#b1)" opacity="0.75"/>
<path d="M356 413 C370 411 392 415 414 413 C424 412 428 417 420 421 C404 426 385 427 368 425 C358 423 350 417 356 413 Z" fill="#fbf1dc" filter="url(#b1)"/>
<g fill="#eba080" filter="url(#b05)" opacity="0.6"><circle cx="362" cy="420" r="1.3"/><circle cx="370" cy="423" r="1.2"/><circle cx="381" cy="421" r="1.4"/><circle cx="392" cy="424" r="1.2"/><circle cx="401" cy="421" r="1.3"/><circle cx="410" cy="423" r="1.1"/><circle cx="376" cy="417" r="1"/><circle cx="396" cy="417" r="1"/><circle cx="386" cy="425" r="1"/><circle cx="366" cy="416" r="0.9"/></g>
<path d="M432 398 C440 396 446 397 453 396 L453 410 C446 412 438 413 430 412 Z" fill="#f0c4bc" filter="url(#b2)" opacity="0.8"/>
<ellipse cx="345" cy="396" rx="9.5" ry="6" fill="#de7650" filter="url(#b1)"/>
<ellipse cx="343" cy="396" rx="5" ry="3.5" fill="#d26440" filter="url(#b1)"/>
<path d="M350 398 C358 401 366 405 380 406 L380 414 C368 413 358 409 350 403 Z" fill="#e8a080" filter="url(#b1)" opacity="0.8"/>
<path d="M377 414 C379 406 387 397 397 390 C405 386 418 384 428 386 C436 388 440 394 438 400 C436 406 428 411 418 414 C404 418 390 419 382 418 C379 417 377 416 377 414 Z" fill="#d96e48" filter="url(#b1)"/>
<path d="M382 411 C385 402 393 394 403 390 C414 387 426 388 431 393 C434 399 428 406 418 410 C406 414 392 415 382 411 Z" fill="#c44e30" filter="url(#b2)"/>
<ellipse cx="405.3" cy="393.3" rx="4.8" ry="4.4" fill="#a03e4e" filter="url(#b05)"/>
<ellipse cx="388.2" cy="407" rx="4.8" ry="5.2" fill="#8e2c36" filter="url(#b05)"/>
<ellipse cx="396.1" cy="400.3" rx="5.8" ry="6.7" fill="#943460" filter="url(#b05)"/>
<ellipse cx="396.5" cy="399.5" rx="2.8" ry="3.4" fill="#b8648a" filter="url(#b05)"/>
<ellipse cx="413.2" cy="402.3" rx="7.2" ry="6.8" fill="#7a263c" filter="url(#b05)"/>
<ellipse cx="414" cy="401.5" rx="3" ry="3" fill="#923c56" filter="url(#b05)"/>
<ellipse cx="371.3" cy="410.8" rx="7" ry="3.6" transform="rotate(12 371.3 410.8)" fill="#5c1a46" filter="url(#b05)"/>
<ellipse cx="384" cy="460" rx="6" ry="12" transform="rotate(-40 384 460)" fill="#f6e0e8" filter="url(#b2)"/>
<path d="M379.5 455 C382 457 385 460 387 463 L389 466.5" stroke="#7a3a82" stroke-width="4.2" stroke-linecap="round" fill="none" filter="url(#b05)"/>
<ellipse cx="381.5" cy="457" rx="2.8" ry="2.2" transform="rotate(40 381.5 457)" fill="#6e2e78" filter="url(#b05)"/>
</g>
<rect x="424" y="477.4" width="26" height="1.9" fill="#111"/>
<text x="510.2" y="362.5" font-size="17.5" font-weight="bold" fill="#111">f</text>
<line x1="559.6" y1="377.8" x2="559.6" y2="481" stroke="#262626" stroke-width="1.1"/>
<line x1="549.6" y1="377.8" x2="559.6" y2="377.8" stroke="#262626" stroke-width="1.1"/>
<text x="546.3" y="382.3" font-size="12.5" text-anchor="end" >15</text>
<line x1="549.6" y1="412.3" x2="559.6" y2="412.3" stroke="#262626" stroke-width="1.1"/>
<text x="546.3" y="416.8" font-size="12.5" text-anchor="end" >10</text>
<line x1="549.6" y1="446.6" x2="559.6" y2="446.6" stroke="#262626" stroke-width="1.1"/>
<text x="546.3" y="451.1" font-size="12.5" text-anchor="end" >5</text>
<line x1="549.6" y1="481" x2="559.6" y2="481" stroke="#262626" stroke-width="1.1"/>
<text x="546.3" y="485.5" font-size="12.5" text-anchor="end" >0</text>
<line x1="550.7" y1="481" x2="660.2" y2="481" stroke="#262626" stroke-width="1.1"/>
<rect x="568.5" y="411" width="16.6" height="70" fill="#fff" stroke="#262626" stroke-width="1.0"/>
<line x1="576.8" y1="410.5" x2="576.8" y2="395.2" stroke="#262626" stroke-width="1.25"/>
<line x1="570.8" y1="395.2" x2="582.8" y2="395.2" stroke="#262626" stroke-width="1.45"/>
<rect x="600.5" y="448.7" width="16.5" height="32.3" fill="#fff" stroke="#262626" stroke-width="1.0"/>
<line x1="608.75" y1="448.2" x2="608.75" y2="446.8" stroke="#262626" stroke-width="1.25"/>
<line x1="602.75" y1="446.8" x2="614.75" y2="446.8" stroke="#262626" stroke-width="1.45"/>
<rect x="632.7" y="423.8" width="16.6" height="57.2" fill="#fff" stroke="#262626" stroke-width="1.0"/>
<line x1="641" y1="423.3" x2="641" y2="420.6" stroke="#262626" stroke-width="1.25"/>
<line x1="635" y1="420.6" x2="647" y2="420.6" stroke="#262626" stroke-width="1.45"/>
<text x="641" y="416.96" font-size="14" text-anchor="middle" >*</text>
<text x="575.8" y="497.8" font-size="13" text-anchor="middle" >Ocl</text>
<text x="579" y="515.2" font-size="13" text-anchor="middle" >prec.</text>
<text x="609.1" y="498.3" font-size="13" text-anchor="middle" >−</text>
<text x="640.2" y="498.3" font-size="13" text-anchor="middle" >+</text>
<text x="657.3" y="497.8" font-size="13" text-anchor="start" >CT</text>
<line x1="601.2" y1="502.1" x2="649.9" y2="502.1" stroke="#262626" stroke-width="1.1"/>
<text x="625.9" y="515.2" font-size="13" text-anchor="middle" >Ocl</text>
<text transform="translate(521.3,430.5) rotate(-90)" font-size="13" text-anchor="middle" textLength="99" lengthAdjust="spacingAndGlyphs">S1P (pmol mg<tspan font-size="9" dy="-5">−1</tspan><tspan dy="5">)</tspan></text>
<text x="1.6" y="541.2" font-size="17.5" font-weight="bold" fill="#111">g</text>
<line x1="49" y1="561.3" x2="49" y2="664.8" stroke="#262626" stroke-width="1.1"/>
<line x1="42" y1="561.3" x2="49" y2="561.3" stroke="#262626" stroke-width="1.1"/>
<text x="37" y="565.8" font-size="12.5" text-anchor="end" >1.5</text>
<line x1="42" y1="595.8" x2="49" y2="595.8" stroke="#262626" stroke-width="1.1"/>
<text x="37" y="600.3" font-size="12.5" text-anchor="end" >1.0</text>
<line x1="42" y1="630.3" x2="49" y2="630.3" stroke="#262626" stroke-width="1.1"/>
<text x="37" y="634.8" font-size="12.5" text-anchor="end" >0.5</text>
<line x1="42" y1="664.8" x2="49" y2="664.8" stroke="#262626" stroke-width="1.1"/>
<text x="37" y="669.3" font-size="12.5" text-anchor="end" >0</text>
<line x1="39.9" y1="664.8" x2="347.5" y2="664.8" stroke="#262626" stroke-width="1.1"/>
<rect x="68.7" y="595" width="10.1" height="69.8" fill="#fff" stroke="#262626" stroke-width="1.0"/>
<line x1="73.75" y1="594.5" x2="73.75" y2="585.6" stroke="#262626" stroke-width="1.25"/>
<line x1="70.25" y1="585.6" x2="77.25" y2="585.6" stroke="#262626" stroke-width="1.45"/>
<text x="74" y="679.6" font-size="12" text-anchor="middle" >0</text>
<rect x="88.1" y="630.8" width="10.1" height="34" fill="#fff" stroke="#262626" stroke-width="1.0"/>
<line x1="93.15" y1="630.3" x2="93.15" y2="620.6" stroke="#262626" stroke-width="1.25"/>
<line x1="89.65" y1="620.6" x2="96.65" y2="620.6" stroke="#262626" stroke-width="1.45"/>
<text x="93.4" y="679.6" font-size="12" text-anchor="middle" >3</text>
<rect x="107.7" y="651" width="10.1" height="13.8" fill="#fff" stroke="#262626" stroke-width="1.0"/>
<line x1="112.75" y1="650.5" x2="112.75" y2="643.5" stroke="#262626" stroke-width="1.25"/>
<line x1="109.25" y1="643.5" x2="116.25" y2="643.5" stroke="#262626" stroke-width="1.45"/>
<text x="113" y="679.6" font-size="12" text-anchor="middle" >12</text>
<rect x="142.8" y="594.3" width="10.1" height="70.5" fill="#fff" stroke="#262626" stroke-width="1.0"/>
<line x1="147.85" y1="593.8" x2="147.85" y2="584.4" stroke="#262626" stroke-width="1.25"/>
<line x1="144.35" y1="584.4" x2="151.35" y2="584.4" stroke="#262626" stroke-width="1.45"/>
<text x="148.1" y="679.6" font-size="12" text-anchor="middle" >0</text>
<rect x="162" y="579.6" width="10.1" height="85.2" fill="#fff" stroke="#262626" stroke-width="1.0"/>
<line x1="167.05" y1="579.1" x2="167.05" y2="564.9" stroke="#262626" stroke-width="1.25"/>
<line x1="163.55" y1="564.9" x2="170.55" y2="564.9" stroke="#262626" stroke-width="1.45"/>
<text x="167.3" y="679.6" font-size="12" text-anchor="middle" >3</text>
<rect x="181.7" y="583.8" width="10.1" height="81" fill="#fff" stroke="#262626" stroke-width="1.0"/>
<line x1="186.75" y1="583.3" x2="186.75" y2="569.4" stroke="#262626" stroke-width="1.25"/>
<line x1="183.25" y1="569.4" x2="190.25" y2="569.4" stroke="#262626" stroke-width="1.45"/>
<text x="187" y="679.6" font-size="12" text-anchor="middle" >12</text>
<rect x="217.2" y="594.3" width="10.1" height="70.5" fill="#fff" stroke="#262626" stroke-width="1.0"/>
<line x1="222.25" y1="593.8" x2="222.25" y2="587" stroke="#262626" stroke-width="1.25"/>
<line x1="218.75" y1="587" x2="225.75" y2="587" stroke="#262626" stroke-width="1.45"/>
<text x="222.5" y="679.6" font-size="12" text-anchor="middle" >0</text>
<rect x="236.4" y="642.7" width="10.1" height="22.1" fill="#fff" stroke="#262626" stroke-width="1.0"/>
<line x1="241.45" y1="642.2" x2="241.45" y2="635.6" stroke="#262626" stroke-width="1.25"/>
<line x1="237.95" y1="635.6" x2="244.95" y2="635.6" stroke="#262626" stroke-width="1.45"/>
<text x="241.7" y="679.6" font-size="12" text-anchor="middle" >3</text>
<rect x="255.8" y="644.8" width="10.1" height="20" fill="#fff" stroke="#262626" stroke-width="1.0"/>
<line x1="260.85" y1="644.3" x2="260.85" y2="641.1" stroke="#262626" stroke-width="1.25"/>
<line x1="257.35" y1="641.1" x2="264.35" y2="641.1" stroke="#262626" stroke-width="1.45"/>
<text x="261.1" y="679.6" font-size="12" text-anchor="middle" >12</text>
<rect x="291.2" y="596.5" width="10.1" height="68.3" fill="#dc4b4a" stroke="#3a1a1a" stroke-width="1.0"/>
<line x1="296.25" y1="596" x2="296.25" y2="584.1" stroke="#262626" stroke-width="1.25"/>
<line x1="292.75" y1="584.1" x2="299.75" y2="584.1" stroke="#262626" stroke-width="1.45"/>
<text x="296.5" y="679.6" font-size="12" text-anchor="middle" >0</text>
<rect x="310.3" y="599" width="10.1" height="65.8" fill="#dc4b4a" stroke="#3a1a1a" stroke-width="1.0"/>
<line x1="315.35" y1="598.5" x2="315.35" y2="589.8" stroke="#262626" stroke-width="1.25"/>
<line x1="311.85" y1="589.8" x2="318.85" y2="589.8" stroke="#262626" stroke-width="1.45"/>
<text x="315.6" y="679.6" font-size="12" text-anchor="middle" >3</text>
<rect x="330.1" y="585.8" width="10.1" height="79" fill="#dc4b4a" stroke="#3a1a1a" stroke-width="1.0"/>
<line x1="335.15" y1="585.3" x2="335.15" y2="575.6" stroke="#262626" stroke-width="1.25"/>
<line x1="331.65" y1="575.6" x2="338.65" y2="575.6" stroke="#262626" stroke-width="1.45"/>
<text x="335.4" y="679.6" font-size="12" text-anchor="middle" >12</text>
<text x="92.8" y="617.84" font-size="11" text-anchor="middle" >*</text>
<text x="112.5" y="642.14" font-size="11" text-anchor="middle" >*</text>
<text x="241.2" y="633.54" font-size="11" text-anchor="middle" >*</text>
<text x="260.7" y="639.54" font-size="11" text-anchor="middle" >*</text>
<text x="352.5" y="679.6" font-size="13" text-anchor="start" >h</text>
<line x1="72.2" y1="682.6" x2="119.9" y2="682.6" stroke="#262626" stroke-width="1.1"/>
<text x="96.05" y="699.6" font-size="13" text-anchor="middle" font-style="italic" >Calcr</text>
<line x1="147.1" y1="682.6" x2="194.4" y2="682.6" stroke="#262626" stroke-width="1.1"/>
<text x="170.75" y="699.6" font-size="13" text-anchor="middle" font-style="italic" >Sphk1</text>
<line x1="222" y1="682.6" x2="268.7" y2="682.6" stroke="#262626" stroke-width="1.1"/>
<text x="245.35" y="699.6" font-size="13" text-anchor="middle" font-style="italic" >Spns2</text>
<line x1="292.9" y1="682.6" x2="339.6" y2="682.6" stroke="#262626" stroke-width="1.1"/>
<text x="316.25" y="699.6" font-size="13" text-anchor="middle" font-style="italic" >Spns2</text>
<text transform="translate(10.2,612.5) rotate(-90)" font-size="13" text-anchor="middle" textLength="117.2" lengthAdjust="spacingAndGlyphs">Relative expression</text>
<rect x="67.9" y="545.1" width="8" height="7" fill="#fff" stroke="#262626" stroke-width="1"/>
<rect x="67.9" y="561.3" width="8" height="7" fill="#dc4b4a" stroke="#262626" stroke-width="1"/>
<text x="82.2" y="552.2" font-size="13.3" font-style="italic">Calcr<tspan font-size="9.5" dx="2" dy="-3.6">+/+</tspan></text>
<text x="82.2" y="568.4" font-size="13.3" font-style="italic">Calcr<tspan font-size="9.5" dx="2" dy="-2.9">−/−</tspan></text>
<text x="433.2" y="545.2" font-size="17.5" font-weight="bold" fill="#111">h</text>
<line x1="482" y1="559.7" x2="482" y2="663.2" stroke="#262626" stroke-width="1.1"/>
<line x1="475" y1="559.7" x2="482" y2="559.7" stroke="#262626" stroke-width="1.1"/>
<text x="469.2" y="564.2" font-size="13.5" text-anchor="end" >30</text>
<line x1="475" y1="593.9" x2="482" y2="593.9" stroke="#262626" stroke-width="1.1"/>
<text x="469.2" y="598.4" font-size="13.5" text-anchor="end" >20</text>
<line x1="475" y1="628.6" x2="482" y2="628.6" stroke="#262626" stroke-width="1.1"/>
<text x="469.2" y="633.1" font-size="13.5" text-anchor="end" >10</text>
<line x1="475" y1="663.2" x2="482" y2="663.2" stroke="#262626" stroke-width="1.1"/>
<text x="469.2" y="667.7" font-size="13.5" text-anchor="end" >0</text>
<line x1="474.7" y1="663.2" x2="631" y2="663.2" stroke="#262626" stroke-width="1.1"/>
<rect x="490.1" y="645.8" width="16.6" height="17.4" fill="#fff" stroke="#262626" stroke-width="1.0"/>
<line x1="498.4" y1="645.3" x2="498.4" y2="640.5" stroke="#262626" stroke-width="1.25"/>
<line x1="492.9" y1="640.5" x2="503.9" y2="640.5" stroke="#262626" stroke-width="1.45"/>
<rect x="508.5" y="642.1" width="16.6" height="21.1" fill="#dc4b4a" stroke="#3a1a1a" stroke-width="1.0"/>
<line x1="516.8" y1="641.6" x2="516.8" y2="635.3" stroke="#262626" stroke-width="1.25"/>
<line x1="511.3" y1="635.3" x2="522.3" y2="635.3" stroke="#262626" stroke-width="1.45"/>
<rect x="538.5" y="578" width="16.6" height="85.2" fill="#fff" stroke="#262626" stroke-width="1.0"/>
<line x1="546.8" y1="577.5" x2="546.8" y2="566.4" stroke="#262626" stroke-width="1.25"/>
<line x1="541.3" y1="566.4" x2="552.3" y2="566.4" stroke="#262626" stroke-width="1.45"/>
<rect x="556.3" y="572.1" width="16.6" height="91.1" fill="#dc4b4a" stroke="#3a1a1a" stroke-width="1.0"/>
<line x1="564.6" y1="571.6" x2="564.6" y2="563.4" stroke="#262626" stroke-width="1.25"/>
<line x1="559.1" y1="563.4" x2="570.1" y2="563.4" stroke="#262626" stroke-width="1.45"/>
<rect x="586.9" y="629.1" width="16.6" height="34.1" fill="#fff" stroke="#262626" stroke-width="1.0"/>
<line x1="595.2" y1="628.6" x2="595.2" y2="620.4" stroke="#262626" stroke-width="1.25"/>
<line x1="589.7" y1="620.4" x2="600.7" y2="620.4" stroke="#262626" stroke-width="1.45"/>
<rect x="605.3" y="569.5" width="16.6" height="93.7" fill="#dc4b4a" stroke="#3a1a1a" stroke-width="1.0"/>
<line x1="613.6" y1="569" x2="613.6" y2="560.8" stroke="#262626" stroke-width="1.25"/>
<line x1="608.1" y1="560.8" x2="619.1" y2="560.8" stroke="#262626" stroke-width="1.45"/>
<text x="595" y="617.74" font-size="11" text-anchor="middle" >*</text>
<line x1="492.3" y1="670.6" x2="525.1" y2="670.6" stroke="#262626" stroke-width="1.1"/>
<text x="508.8" y="685.3" font-size="13.5" text-anchor="middle" >Ocl</text>
<text x="508.8" y="701.5" font-size="13.5" text-anchor="middle" >prec.</text>
<line x1="539.3" y1="670.6" x2="572.3" y2="670.6" stroke="#262626" stroke-width="1.1"/>
<text x="556.4" y="685.3" font-size="13.5" text-anchor="middle" >Ocl</text>
<text x="556.4" y="701.5" font-size="13.5" text-anchor="middle" >− CT</text>
<line x1="588.2" y1="670.6" x2="620.8" y2="670.6" stroke="#262626" stroke-width="1.1"/>
<text x="604.5" y="685.3" font-size="13.5" text-anchor="middle" >Ocl</text>
<text x="604.5" y="701.5" font-size="13.5" text-anchor="middle" >+ CT</text>
<text transform="translate(445.5,611.7) rotate(-90)" font-size="13" text-anchor="middle" textLength="94.4" lengthAdjust="spacingAndGlyphs">S1P (pmol ml<tspan font-size="9" dy="-5">−1</tspan><tspan dy="5">)</tspan></text>
<rect x="486.4" y="538.7" width="8.4" height="7.3" fill="#fff" stroke="#262626" stroke-width="1"/>
<rect x="486.4" y="555" width="8.4" height="7.3" fill="#dc4b4a" stroke="#262626" stroke-width="1"/>
<text x="498.2" y="545.4" font-size="13.3" font-style="italic">Calcr<tspan font-size="9.5" dx="2" dy="-3.6">+/+</tspan></text>
<text x="498.2" y="561.7" font-size="13.3" font-style="italic">Calcr<tspan font-size="9.5" dx="2" dy="-2.9">−/−</tspan></text>
</svg></body></html>
